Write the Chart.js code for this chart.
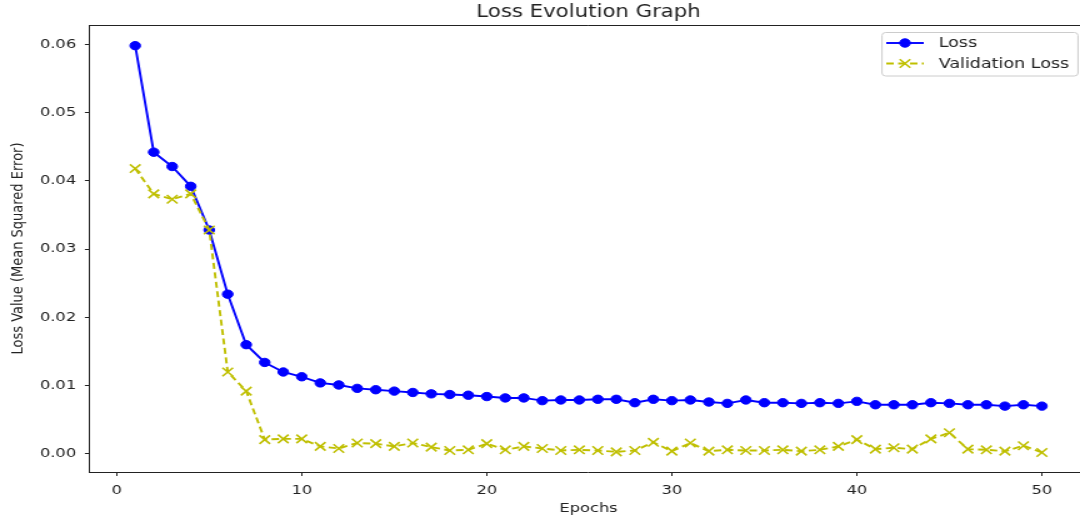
<!DOCTYPE html>
<html>
<head>
<meta charset="utf-8">
<script src="https://cdn.jsdelivr.net/npm/chart.js@4.4.0/dist/chart.umd.min.js"></script>
<style>
html, body { margin: 0; padding: 0; background: #fff; overflow: hidden; width: 1080px; height: 517px; }
#wrap { width: 880px; height: 517px; transform: scaleX(1.25); transform-origin: 0 0; }
</style>
</head>
<body>
<div id="wrap"><canvas id="lossChart" width="880" height="517"></canvas></div>
<script>
const chartTitle = 'Loss Evolution Graph';
const xTitle = 'Epochs';
const yTitle = 'Loss Value (Mean Squared Error)';

const epochs = [1, 2, 3, 4, 5, 6, 7, 8, 9, 10, 11, 12, 13, 14, 15, 16, 17, 18, 19, 20,
  21, 22, 23, 24, 25, 26, 27, 28, 29, 30, 31, 32, 33, 34, 35, 36, 37, 38, 39, 40,
  41, 42, 43, 44, 45, 46, 47, 48, 49, 50];

const loss = [0.0598, 0.0442, 0.0421, 0.0392, 0.0328, 0.0234, 0.0160, 0.0134, 0.0120, 0.0113,
  0.0104, 0.0101, 0.0096, 0.0094, 0.0092, 0.0090, 0.0088, 0.0087, 0.0086, 0.0084,
  0.0082, 0.0082, 0.0078, 0.0079, 0.0079, 0.0080, 0.0080, 0.0075, 0.0080, 0.0078,
  0.0079, 0.0076, 0.0074, 0.0079, 0.0075, 0.0075, 0.0074, 0.0075, 0.0074, 0.0077,
  0.0072, 0.0072, 0.0072, 0.0075, 0.0074, 0.0072, 0.0072, 0.0070, 0.0072, 0.0070];

const valLoss = [0.0418, 0.0381, 0.0373, 0.0381, 0.0328, 0.0120, 0.0092, 0.0021, 0.0022, 0.0022,
  0.0011, 0.0008, 0.0016, 0.0015, 0.0011, 0.0016, 0.0010, 0.0005, 0.0006, 0.0015,
  0.0006, 0.0011, 0.0008, 0.0005, 0.0006, 0.0005, 0.0003, 0.0005, 0.0017, 0.0004,
  0.0016, 0.0004, 0.0006, 0.0005, 0.0005, 0.0006, 0.0004, 0.0006, 0.0011, 0.0021,
  0.0007, 0.0009, 0.0007, 0.0022, 0.0031, 0.0007, 0.0006, 0.0004, 0.0012, 0.0002];

const xTicks = [0, 10, 20, 30, 40, 50];
const yTicks = [0.00, 0.01, 0.02, 0.03, 0.04, 0.05, 0.06];

const FONT = '"DejaVu Sans", sans-serif';
const INK = '#222';

function toPoints(ys) {
    return epochs.map((e, i) => ({ x: e, y: ys[i] }));
}

// titel, rahmen oben/rechts und legende (matplotlib-stil)
const extras = {
    id: 'extras',
    afterDraw(chart) {
        const { ctx, chartArea: a } = chart;
        ctx.save();
        ctx.strokeStyle = INK;
        ctx.lineWidth = 1;
        ctx.beginPath();
        ctx.moveTo(a.left, a.top + 0.5);
        ctx.lineTo(a.right, a.top + 0.5);
        ctx.lineTo(a.right, a.bottom);
        ctx.stroke();

        ctx.fillStyle = INK;
        ctx.font = '17px ' + FONT;
        ctx.textAlign = 'center';
        ctx.textBaseline = 'middle';
        ctx.fillText(chartTitle, (a.left + a.right) / 2, 13);

        // legende
        const bx = 705.6, by = 32.5, bw = 156.8, bh = 43.5;
        ctx.beginPath();
        ctx.roundRect(bx, by, bw, bh, 3);
        ctx.fillStyle = 'rgba(255,255,255,0.8)';
        ctx.fill();
        ctx.strokeStyle = '#ccc';
        ctx.stroke();

        chart.data.datasets.forEach((ds, i) => {
            const y = 43 + i * 20.5;
            ctx.save();
            ctx.strokeStyle = ds.borderColor;
            ctx.lineWidth = ds.borderWidth;
            ctx.setLineDash(ds.borderDash || []);
            ctx.beginPath();
            ctx.moveTo(709, y);
            ctx.lineTo(739, y);
            ctx.stroke();
            ctx.setLineDash([]);
            ctx.fillStyle = ds.pointBackgroundColor;
            ctx.strokeStyle = ds.pointBorderColor;
            ctx.lineWidth = ds.pointBorderWidth;
            Chart.helpers.drawPoint(ctx, {
                pointStyle: ds.pointStyle, radius: ds.pointRadius,
                borderWidth: ds.pointBorderWidth, rotation: 0
            }, 724, y);
            ctx.restore();
            ctx.fillStyle = INK;
            ctx.font = '14px ' + FONT;
            ctx.textAlign = 'left';
            ctx.textBaseline = 'middle';
            ctx.fillText(ds.label, 751, y + 0.5);
        });
        ctx.restore();
    }
};

new Chart(document.getElementById('lossChart'), {
    type: 'line',
    data: {
        datasets: [
            {
                label: 'Loss',
                data: toPoints(loss),
                borderColor: '#0000ff',
                borderWidth: 1.9,
                pointStyle: 'circle',
                pointRadius: 4.2,
                pointBackgroundColor: '#0000ff',
                pointBorderColor: '#0000ff',
                pointBorderWidth: 1,
                fill: false,
                tension: 0,
                order: 1
            },
            {
                label: 'Validation Loss',
                data: toPoints(valLoss),
                borderColor: '#bfbf00',
                borderWidth: 1.9,
                borderDash: [6, 3.5],
                pointStyle: 'crossRot',
                pointRadius: 6,
                pointBackgroundColor: '#bfbf00',
                pointBorderColor: '#bfbf00',
                pointBorderWidth: 1.6,
                fill: false,
                tension: 0,
                order: 0
            }
        ]
    },
    options: {
        responsive: false,
        animation: false,
        devicePixelRatio: 1,
        layout: { padding: { left: 0, top: 25, right: 10.2, bottom: 0 } },
        plugins: { legend: { display: false }, tooltip: { enabled: false } },
        scales: {
            x: {
                type: 'linear',
                min: -1.45,
                max: 52.45,
                afterBuildTicks: s => { s.ticks = xTicks.map(v => ({ value: v })); },
                afterFit: s => { s.height = 45; },
                ticks: { color: INK, font: { family: FONT, size: 13 }, padding: 7, maxRotation: 0 },
                grid: { drawOnChartArea: false, tickLength: 4, color: INK },
                border: { color: INK, width: 1 },
                title: { display: true, text: xTitle, color: INK, font: { family: FONT, size: 13 }, padding: { top: 0, bottom: 1 } }
            },
            y: {
                min: -0.00265,
                max: 0.06283,
                afterBuildTicks: s => { s.ticks = yTicks.map(v => ({ value: v })); },
                afterFit: s => { s.width = 71.9; },
                ticks: { color: INK, font: { family: FONT, size: 13 }, padding: 7, callback: v => v.toFixed(2) },
                grid: { drawOnChartArea: false, tickLength: 4, color: INK },
                border: { color: INK, width: 1 },
                title: { display: true, text: yTitle, color: INK, font: { family: FONT, size: 13 }, padding: { top: 6.6, bottom: 0 } }
            }
        }
    },
    plugins: [extras]
});
</script>
</body>
</html>
